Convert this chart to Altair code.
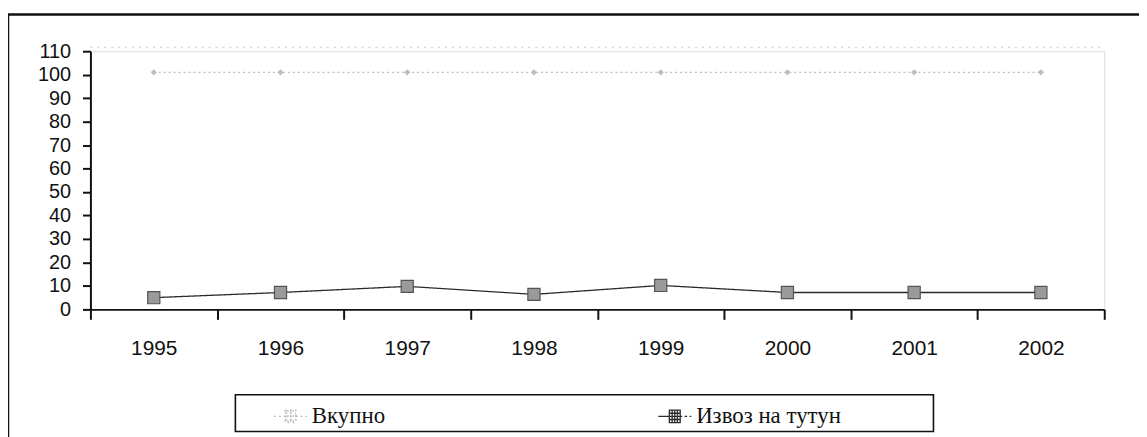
import altair as alt
import pandas as pd

years = ["1995", "1996", "1997", "1998", "1999", "2000", "2001", "2002"]
total = [101, 101, 101, 101, 101, 101, 101, 101]
tobacco = [5, 7.2, 9.8, 6.4, 10.2, 7.2, 7.2, 7.2]
series_names = ["Вкупно", "Извоз на тутун"]
y_ticks = [0, 10, 20, 30, 40, 50, 60, 70, 80, 90, 100, 110]

rows = []
for y, v in zip(years, total):
    rows.append({"year": y, "value": v, "series": series_names[0]})
for y, v in zip(years, tobacco):
    rows.append({"year": y, "value": v, "series": series_names[1]})
df = pd.DataFrame(rows)

W, H = 1021, 260

xenc = alt.X("year:N", sort=years,
             scale=alt.Scale(paddingInner=0, paddingOuter=0),
             axis=alt.Axis(title=None, labelAngle=0, tickBand="extent",
                           labelFont="Liberation Sans", labelFontSize=21,
                           labelColor="#111", labelPadding=18, tickSize=10,
                           tickWidth=2, domainWidth=2, domainColor="#111",
                           tickColor="#111"))
yenc = alt.Y("value:Q",
             scale=alt.Scale(domain=[0, 110], nice=False),
             axis=alt.Axis(title=None, values=y_ticks, grid=False, labelOverlap=False,
                           labelFont="Liberation Sans", labelFontSize=20,
                           labelColor="#111", labelPadding=12, tickSize=8,
                           tickWidth=2, domainWidth=2, domainColor="#111",
                           tickColor="#111"))

base = alt.Chart(df)

sym = "M-1,0H-0.33M0.33,0H0.45M0.6,0H0.75M0.9,0H1M-0.33,-0.38H0.33V0.38H-0.33ZM-0.33,-0.19H0.33M-0.33,0H0.33M-0.33,0.19H0.33M-0.16,-0.38V0.38M0,-0.38V0.38M0.16,-0.38V0.38"

lines = base.mark_line(strokeWidth=1.3).encode(
    x=xenc, y=yenc,
    color=alt.Color("series:N", sort=series_names,
                    scale=alt.Scale(domain=series_names, range=["#bdbdbd", "#2a2a2a"]),
                    legend=alt.Legend(title=None, orient="none", legendX=184, legendY=350,
                                      direction="horizontal", symbolType=sym,
                                      symbolSize=1100, symbolStrokeWidth=1.3,
                                      symbolFillColor="transparent", symbolOpacity=1,
                                      labelFont="Liberation Serif", labelFontSize=23,
                                      labelColor="#111", labelOffset=4,
                                      columnPadding=272, padding=0, labelLimit=400)),
    strokeDash=alt.StrokeDash("series:N", sort=series_names,
                              scale=alt.Scale(domain=series_names, range=[[2, 3], [1, 0]]),
                              legend=None),
)

pts_tob = base.transform_filter(alt.datum.series == series_names[1]).mark_point(
    shape="square", filled=True, size=150, color="#9a9a9a", stroke="#555", strokeWidth=1.2,
    opacity=1
).encode(x=xenc, y=yenc)

pts_tot = base.transform_filter(alt.datum.series == series_names[0]).mark_point(
    shape="diamond", filled=True, size=40, color="#bdbdbd", opacity=1
).encode(x=xenc, y=yenc)

frame = alt.Chart(pd.DataFrame({"k": [0]})).mark_rect(
    fill="transparent", stroke="#111", strokeWidth=2.5
).encode(x=alt.value(-83), x2=alt.value(1080), y=alt.value(-37), y2=alt.value(420))

topline = alt.Chart(pd.DataFrame({"k": [0]})).mark_rule(
    stroke="#c8c8c8", strokeDash=[2, 5], strokeWidth=1.2
).encode(x=alt.value(0), x2=alt.value(W), y=alt.value(-4))

legbox = alt.Chart(pd.DataFrame({"k": [0]})).mark_rect(
    fill="transparent", stroke="#111", strokeWidth=1.6
).encode(x=alt.value(146), x2=alt.value(849), y=alt.value(346), y2=alt.value(383))

chart = alt.layer(lines, pts_tot, pts_tob, frame, topline, legbox).properties(
    width=W, height=H,
    autosize=alt.AutoSizeParams(type="none"),
    padding={"left": 83, "top": 42, "right": 1139 - 83 - W, "bottom": 429 - 42 - H},
).configure_view(stroke=None).configure(background="white")

chart.save("out.html", embed_options={"renderer": "svg", "actions": False})
